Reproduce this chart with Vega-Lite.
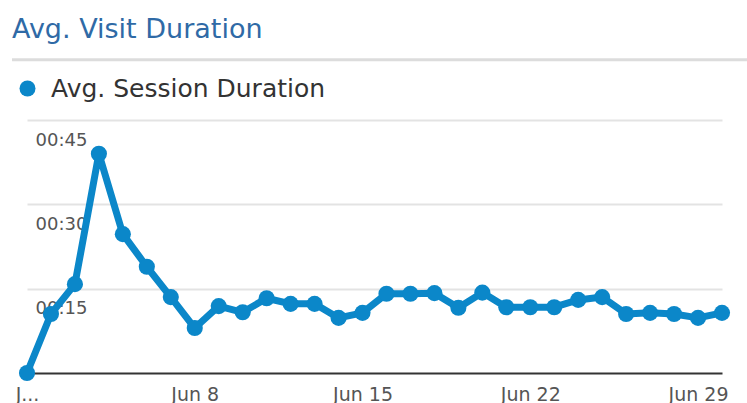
{
  "$schema": "https://vega.github.io/schema/vega-lite/v6.json",
  "width": 695,
  "height": 253,
  "autosize": {"type": "none"},
  "padding": {"left": 27, "top": 120, "right": 25, "bottom": 30},
  "background": "white",
  "title": {
    "text": "Avg. Visit Duration",
    "anchor": "start",
    "frame": "group",
    "font": "DejaVu Sans",
    "fontSize": 27,
    "fontWeight": "normal",
    "color": "#2f6aa6",
    "dx": -15,
    "dy": -14,
    "offset": 0
  },
  "datasets": {
    "visits": [
      {"date": "2014-06-01", "seconds": 0},
      {"date": "2014-06-02", "seconds": 10.5},
      {"date": "2014-06-03", "seconds": 15.8},
      {"date": "2014-06-04", "seconds": 39.0},
      {"date": "2014-06-05", "seconds": 24.7},
      {"date": "2014-06-06", "seconds": 18.9},
      {"date": "2014-06-07", "seconds": 13.5},
      {"date": "2014-06-08", "seconds": 8.0},
      {"date": "2014-06-09", "seconds": 11.9},
      {"date": "2014-06-10", "seconds": 10.8},
      {"date": "2014-06-11", "seconds": 13.3},
      {"date": "2014-06-12", "seconds": 12.3},
      {"date": "2014-06-13", "seconds": 12.3},
      {"date": "2014-06-14", "seconds": 9.8},
      {"date": "2014-06-15", "seconds": 10.7},
      {"date": "2014-06-16", "seconds": 14.1},
      {"date": "2014-06-17", "seconds": 14.1},
      {"date": "2014-06-18", "seconds": 14.2},
      {"date": "2014-06-19", "seconds": 11.6},
      {"date": "2014-06-20", "seconds": 14.3},
      {"date": "2014-06-21", "seconds": 11.7},
      {"date": "2014-06-22", "seconds": 11.7},
      {"date": "2014-06-23", "seconds": 11.7},
      {"date": "2014-06-24", "seconds": 13.0},
      {"date": "2014-06-25", "seconds": 13.5},
      {"date": "2014-06-26", "seconds": 10.5},
      {"date": "2014-06-27", "seconds": 10.7},
      {"date": "2014-06-28", "seconds": 10.5},
      {"date": "2014-06-29", "seconds": 9.8},
      {"date": "2014-06-30", "seconds": 10.7}
    ]
  },
  "layer": [
    {
      "data": {"name": "visits"},
      "mark": {"type": "line", "color": "#0b87c9", "strokeWidth": 7, "strokeJoin": "round"},
      "encoding": {
        "x": {
          "field": "date",
          "type": "temporal",
          "scale": {
            "type": "utc",
            "domain": [
              {"year": 2014, "month": 6, "date": 1, "utc": true},
              {"year": 2014, "month": 6, "date": 30, "utc": true}
            ]
          },
          "axis": {
            "title": null,
            "values": [
              {"year": 2014, "month": 6, "date": 1, "utc": true},
              {"year": 2014, "month": 6, "date": 8, "utc": true},
              {"year": 2014, "month": 6, "date": 15, "utc": true},
              {"year": 2014, "month": 6, "date": 22, "utc": true},
              {"year": 2014, "month": 6, "date": 29, "utc": true}
            ],
            "labelExpr": "utcdate(datum.value) == 1 ? 'J...' : 'Jun ' + utcdate(datum.value)",
            "grid": false,
            "ticks": false,
            "domain": true,
            "domainColor": "#333333",
            "domainWidth": 2,
            "labelFont": "DejaVu Sans",
            "labelFontSize": 19,
            "labelColor": "#555555",
            "labelPadding": 12,
            "labelFlush": false,
            "labelOverlap": false
          }
        },
        "y": {
          "field": "seconds",
          "type": "quantitative",
          "scale": {"domain": [0, 45], "nice": false, "zero": true},
          "axis": {
            "title": null,
            "values": [15, 30, 45],
            "labelExpr": "'00:' + (datum.value < 10 ? '0' : '') + datum.value",
            "grid": true,
            "gridColor": "#e3e3e3",
            "gridWidth": 2,
            "domain": false,
            "ticks": false,
            "labelAlign": "left",
            "labelBaseline": "top",
            "labelPadding": -8,
            "labelOffset": 11,
            "labelFont": "DejaVu Sans",
            "labelFontSize": 18,
            "labelColor": "#555555"
          }
        }
      }
    },
    {
      "data": {"name": "visits"},
      "mark": {"type": "point", "filled": true, "size": 260, "opacity": 1},
      "encoding": {
        "x": {"field": "date", "type": "temporal"},
        "y": {"field": "seconds", "type": "quantitative"},
        "color": {
          "datum": "Avg. Session Duration",
          "type": "nominal",
          "scale": {"range": ["#0b87c9"]},
          "legend": {
            "title": null,
            "orient": "none",
            "legendX": -12,
            "legendY": -44,
            "padding": 0,
            "symbolType": "circle",
            "symbolSize": 256,
            "symbolOpacity": 1,
            "labelOffset": 11,
            "labelFont": "DejaVu Sans",
            "labelFontSize": 25,
            "labelColor": "#333333",
            "labelLimit": 0
          }
        }
      }
    },
    {
      "data": {"values": [{"line": "separator"}]},
      "mark": {"type": "rule", "color": "#dcdcdc", "strokeWidth": 3, "clip": false},
      "encoding": {
        "x": {"datum": {"year": 2014, "month": 5, "date": 31, "hours": 9, "utc": true}, "type": "temporal"},
        "x2": {"datum": {"year": 2014, "month": 7, "date": 1, "hours": 1, "utc": true}},
        "y": {"datum": 55.7, "type": "quantitative"}
      }
    }
  ],
  "config": {"view": {"stroke": null}}
}
